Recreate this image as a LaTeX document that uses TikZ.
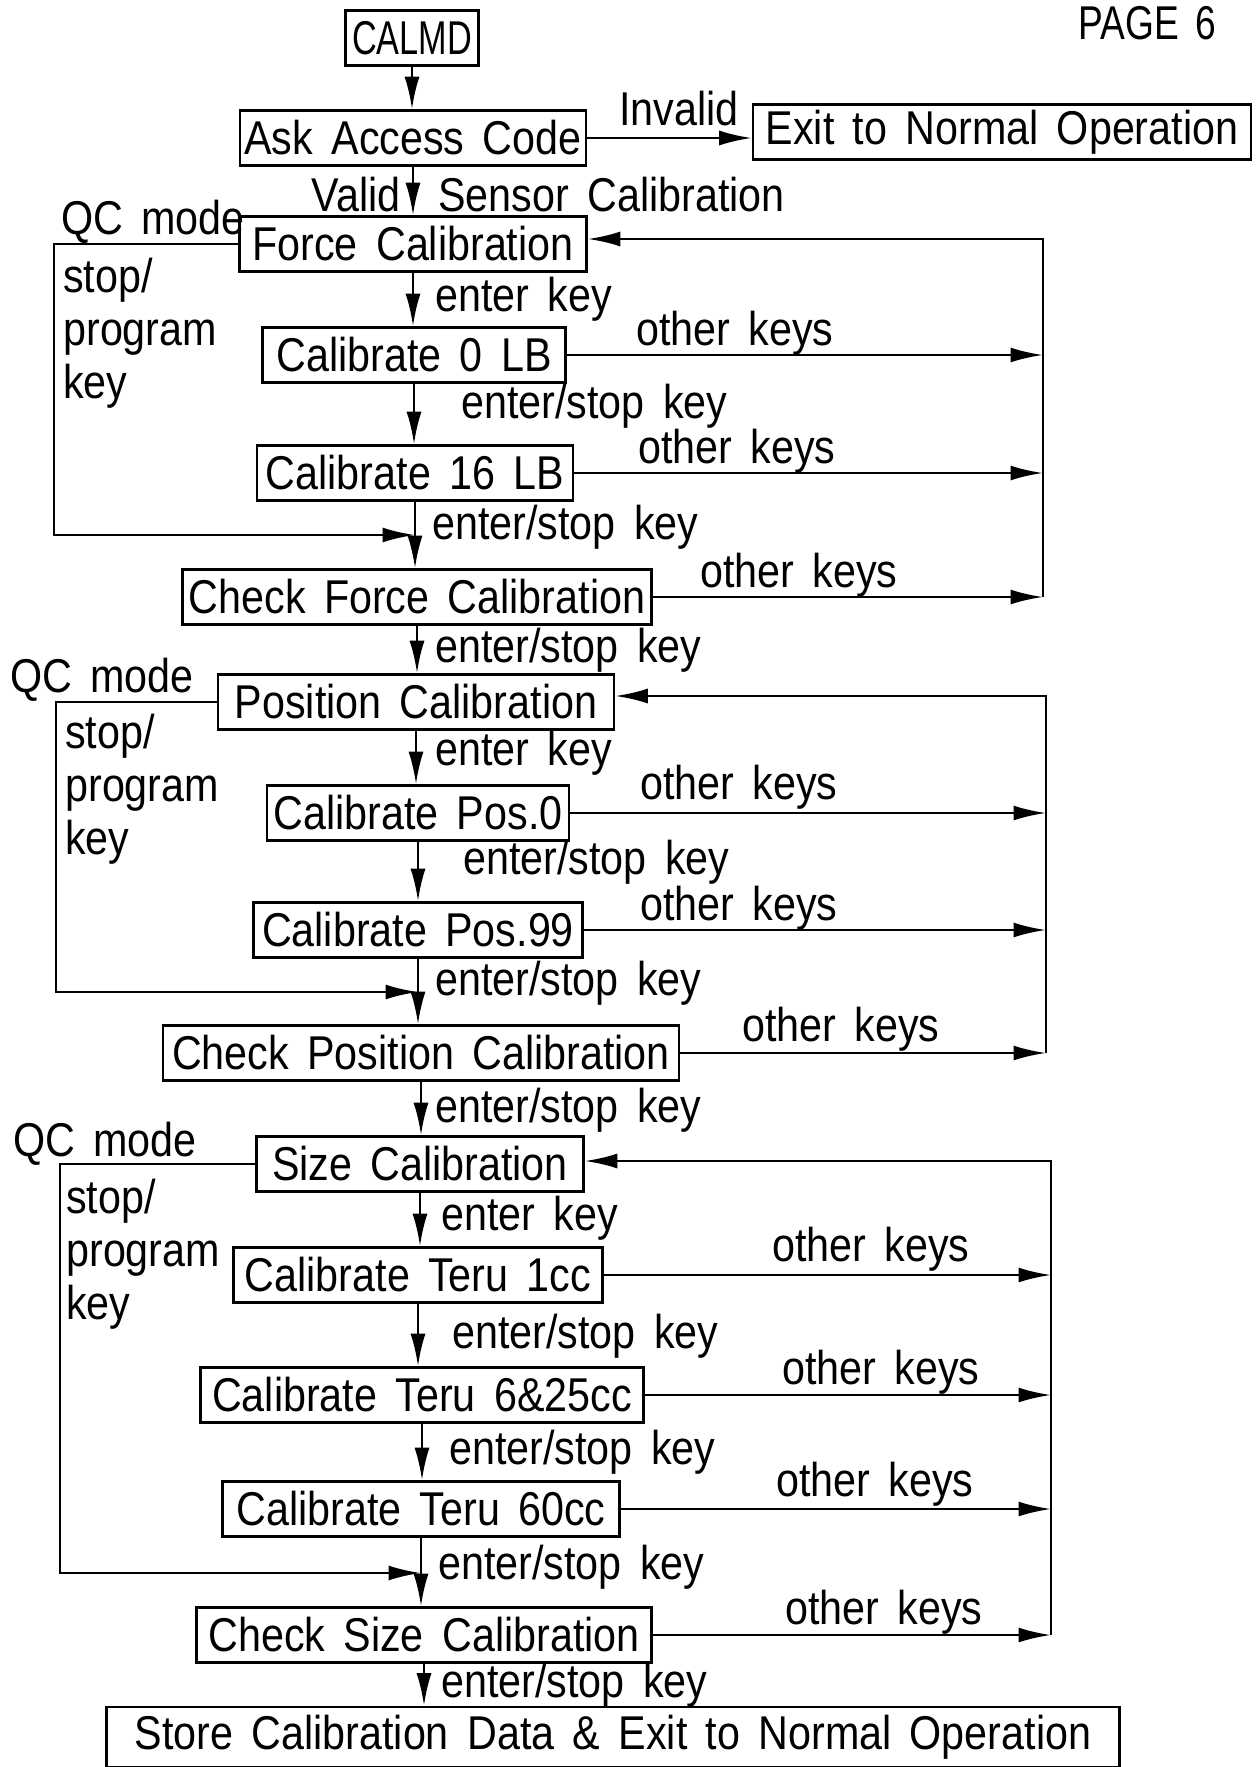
\documentclass[tikz,border=0pt]{standalone}
\usepackage{fontspec}
\setmainfont{Liberation Sans}[FakeStretch=0.87,WordSpace=1.6]
\usetikzlibrary{arrows.meta}
\tikzset{
  box/.style={draw,line width=1.5pt,minimum width=#1*0.02cm,minimum height=1.1cm,inner sep=1pt},
  lbl/.style={inner sep=0pt,anchor=west},
  arr/.style={-{Latex[length=6.5mm,width=3mm]}},
}
\begin{document}
\begin{tikzpicture}[x=0.02cm,y=-0.02cm,line width=1.5pt,font=\fontsize{27}{30}\selectfont]
\useasboundingbox (0,0) rectangle (1257,1767);
\node[lbl] (page) at (1077,23) {\scalebox{0.9}[1]{PAGE 6}};
\node[box=133] (calmd) at (412,38) {\scalebox{0.83}[1]{CALMD}};
\node[box=346] (ask) at (413,138) {Ask Access Code};
\node[box=498] (exit) at (1002,132) {Exit to Normal Operation};
\node[box=347] (force) at (413,244) {Force Calibration};
\node[box=303] (cal0) at (414,355) {Calibrate 0 LB};
\node[box=316] (cal16) at (415,473) {Calibrate 16 LB};
\node[box=469] (chkforce) at (417,597) {Check Force Calibration};
\node[box=396] (pos) at (416,702) {Position Calibration};
\node[box=302] (pos0) at (418,813) {Calibrate Pos.0};
\node[box=329] (pos99) at (418,930) {Calibrate Pos.99};
\node[box=516] (chkpos) at (421,1053) {Check Position Calibration};
\node[box=327] (size) at (420,1164) {Size Calibration};
\node[box=369] (teru1) at (418,1275) {Calibrate Teru 1cc};
\node[box=443] (teru6) at (422,1395) {Calibrate Teru 6\&25cc};
\node[box=397] (teru60) at (421,1509) {Calibrate Teru 60cc};
\node[box=455] (chksize) at (424,1635) {Check Size Calibration};
\node[box=1013,minimum height=1.2cm] (store) at (613,1737) {Store Calibration Data \& Exit to Normal Operation};

\coordinate (busA) at (1043,239);
\coordinate (busB) at (1046,696);
\coordinate (busC) at (1051,1161);
\coordinate (qcA) at (54,535);
\coordinate (qcB) at (56,992);
\coordinate (qcC) at (60,1573);

\draw[arr] (calmd.south) -- (calmd.south |- ask.north);
\draw[arr] (ask.east) -- (ask.east -| exit.west);
\draw[arr] (ask.south) -- (ask.south |- force.north);
\node[lbl] (inv) at (618,109) {Invalid};
\node[lbl,anchor=east] (valid) at (402,195) {Valid};
\node[lbl] (sensor) at (437,195) {Sensor Calibration};

% force section
\draw[arr] (force.south) -- (force.south |- cal0.north);
\draw[arr] (cal0.south) -- (cal0.south |- cal16.north);
\draw[arr] (cal16.south) -- (cal16.south |- chkforce.north);
\draw[arr] (force.west) -| (qcA) -- (qcA -| cal16.south);
\foreach \n in {cal0,cal16,chkforce}
  \draw[arr] (\n.east) -- (\n.east -| busA);
\draw[arr] (chkforce.east -| busA) -- (busA) -- (busA -| force.east);
\node[lbl] (qc1) at (60,222) {QC mode};
\node[lbl,anchor=north west,align=left] (sp1) at (62,257) {stop/\\program\\key};
\node[lbl] (ek1) at (434,299) {enter key};
\node[lbl] (ok1) at (635,333) {other keys};
\node[lbl] (es1) at (460,406) {enter/stop key};
\node[lbl] (ok2) at (637,451) {other keys};
\node[lbl] (es2) at (431,527) {enter/stop key};
\node[lbl] (ok3) at (699,575) {other keys};

\draw[arr] (chkforce.south) -- (chkforce.south |- pos.north);
\node[lbl] (es3) at (434,650) {enter/stop key};

% position section
\draw[arr] (pos.south) -- (pos.south |- pos0.north);
\draw[arr] (pos0.south) -- (pos0.south |- pos99.north);
\draw[arr] (pos99.south) -- (pos99.south |- chkpos.north);
\draw[arr] (pos.west) -| (qcB) -- (qcB -| pos99.south);
\foreach \n in {pos0,pos99,chkpos}
  \draw[arr] (\n.east) -- (\n.east -| busB);
\draw[arr] (chkpos.east -| busB) -- (busB) -- (busB -| pos.east);
\node[lbl] (qc2) at (9,680) {QC mode};
\node[lbl,anchor=north west,align=left] (sp2) at (64,713) {stop/\\program\\key};
\node[lbl] (ek2) at (434,753) {enter key};
\node[lbl] (ok4) at (639,787) {other keys};
\node[lbl] (es4) at (462,862) {enter/stop key};
\node[lbl] (ok5) at (639,908) {other keys};
\node[lbl] (es5) at (434,983) {enter/stop key};
\node[lbl] (ok6) at (741,1029) {other keys};

\draw[arr] (chkpos.south) -- (chkpos.south |- size.north);
\node[lbl] (es6) at (434,1110) {enter/stop key};

% size section
\draw[arr] (size.south) -- (size.south |- teru1.north);
\draw[arr] (teru1.south) -- (teru1.south |- teru6.north);
\draw[arr] (teru6.south) -- (teru6.south |- teru60.north);
\draw[arr] (teru60.south) -- (teru60.south |- chksize.north);
\draw[arr] (size.west) -| (qcC) -- (qcC -| teru60.south);
\foreach \n in {teru1,teru6,teru60,chksize}
  \draw[arr] (\n.east) -- (\n.east -| busC);
\draw[arr] (chksize.east -| busC) -- (busC) -- (busC -| size.east);
\node[lbl] (qc3) at (12,1144) {QC mode};
\node[lbl,anchor=north west,align=left] (sp3) at (65,1178) {stop/\\program\\key};
\node[lbl] (ek3) at (440,1218) {enter key};
\node[lbl] (ok7) at (771,1249) {other keys};
\node[lbl] (es7) at (451,1336) {enter/stop key};
\node[lbl] (ok8) at (781,1372) {other keys};
\node[lbl] (es8) at (448,1452) {enter/stop key};
\node[lbl] (ok9) at (775,1484) {other keys};
\node[lbl] (es9) at (437,1567) {enter/stop key};
\node[lbl] (ok10) at (784,1612) {other keys};

\draw[arr] (chksize.south) -- (chksize.south |- store.north);
\node[lbl] (es10) at (440,1685) {enter/stop key};
\end{tikzpicture}
\end{document}
